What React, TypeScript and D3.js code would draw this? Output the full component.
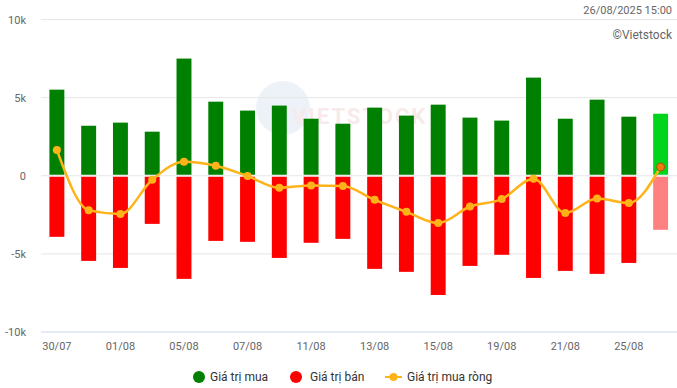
import React from 'react';
import * as d3 from 'd3';

const dates = ['30/07','31/07','01/08','04/08','05/08','06/08','07/08','08/08','11/08','12/08',
  '13/08','14/08','15/08','18/08','19/08','20/08','21/08','22/08','25/08','26/08'];
const buyValues = [5.51,3.2,3.4,2.82,7.5,4.74,4.17,4.49,3.65,3.33,4.36,3.85,4.55,3.72,3.53,6.28,3.65,4.87,3.78,3.97];
const sellValues = [-3.91,-5.45,-5.9,-3.08,-6.6,-4.17,-4.23,-5.26,-4.29,-4.04,-5.96,-6.15,-7.63,-5.77,-5.06,-6.54,-6.09,-6.28,-5.58,-3.46];
const netValues = [1.65,-2.2,-2.44,-0.26,0.9,0.64,-0.02,-0.77,-0.62,-0.66,-1.54,-2.31,-3.03,-1.97,-1.49,-0.19,-2.39,-1.46,-1.75,0.56];
const yTicks = [10, 5, 0, -5, -10];
const legendItems = ['Giá trị mua', 'Giá trị bán', 'Giá trị mua ròng'];

const W = 677, H = 388;
const font = 'Roboto, "Noto Sans", sans-serif';

const App = () => {
  const x = d3.scaleBand<string>().domain(dates).range([41, 676.5]).paddingInner(0.53).paddingOuter(0.265);
  const y = d3.scaleLinear().domain([-10, 10]).range([332, 19.5]);
  const bw = x.bandwidth();
  const cx = (d: string) => (x(d) as number) + bw / 2;
  const last = dates.length - 1;

  const line = d3.line<number>()
    .x((_, i) => cx(dates[i]))
    .y(d => y(d))
    .curve(d3.curveMonotoneX);

  return (
    <svg width={W} height={H}
      style={{ position: 'fixed', left: 0, top: 0, display: 'block', fontFamily: font }}>
      <rect width={W} height={H} fill="#fff" />
      {/* watermark */}
      <g opacity={0.5}>
        <circle cx={283} cy={108} r={27} fill="#dde7f3" />
        <text x={292} y={124} fontSize={22} fontWeight="bold" fill="#f3d6d6" letterSpacing={2}>VIETSTOCK</text>
      </g>
      {yTicks.map(t => (
        <g key={t}>
          <line x1={41} x2={W} y1={y(t)} y2={y(t)} stroke={t === -10 ? '#ccd6eb' : '#e6e6e6'} />
          <text x={26} y={y(t) + 4} textAnchor="end" fontSize={11} fill="#666">{t === 0 ? '0' : `${t}k`}</text>
        </g>
      ))}
      {dates.map((d, i) => (
        <g key={d}>
          <rect x={x(d)} y={y(buyValues[i])} width={bw} height={y(0) - y(buyValues[i]) - 1}
            fill={i === last ? '#00d41c' : '#008000'} />
          <rect x={x(d)} y={y(0) + 1} width={bw} height={y(sellValues[i]) - y(0) - 1}
            fill={i === last ? '#ff8080' : '#ff0000'} />
        </g>
      ))}
      <path d={line(netValues) || ''} fill="none" stroke="#ffb31a" strokeWidth={2.5} />
      {netValues.map((v, i) => (
        <circle key={i} cx={cx(dates[i])} cy={y(v)} r={4}
          fill={i === last ? '#f07a10' : '#ffb31a'}
          stroke={i === last ? '#b34f00' : 'none'} strokeWidth={1} />
      ))}
      {dates.map((d, i) => i % 2 === 0 && (
        <text key={d} x={cx(d)} y={350} textAnchor="middle" fontSize={11} fill="#666">{d}</text>
      ))}
      <text x={672} y={14} textAnchor="end" fontSize={11} fill="#666">26/08/2025 15:00</text>
      <text x={672} y={39} textAnchor="end" fontSize={12} fill="#666">©Vietstock</text>
      {/* legend */}
      <g fontSize={12} fill="#333">
        <circle cx={199} cy={377} r={6} fill="#008000" />
        <text x={210} y={381}>{legendItems[0]}</text>
        <circle cx={296} cy={377} r={6} fill="#ff0000" />
        <text x={310} y={381}>{legendItems[1]}</text>
        <line x1={385} x2={402} y1={377} y2={377} stroke="#ffb31a" strokeWidth={2} />
        <circle cx={393.5} cy={377} r={4} fill="#ffb31a" />
        <text x={407} y={381}>{legendItems[2]}</text>
      </g>
    </svg>
  );
};

export default App;
